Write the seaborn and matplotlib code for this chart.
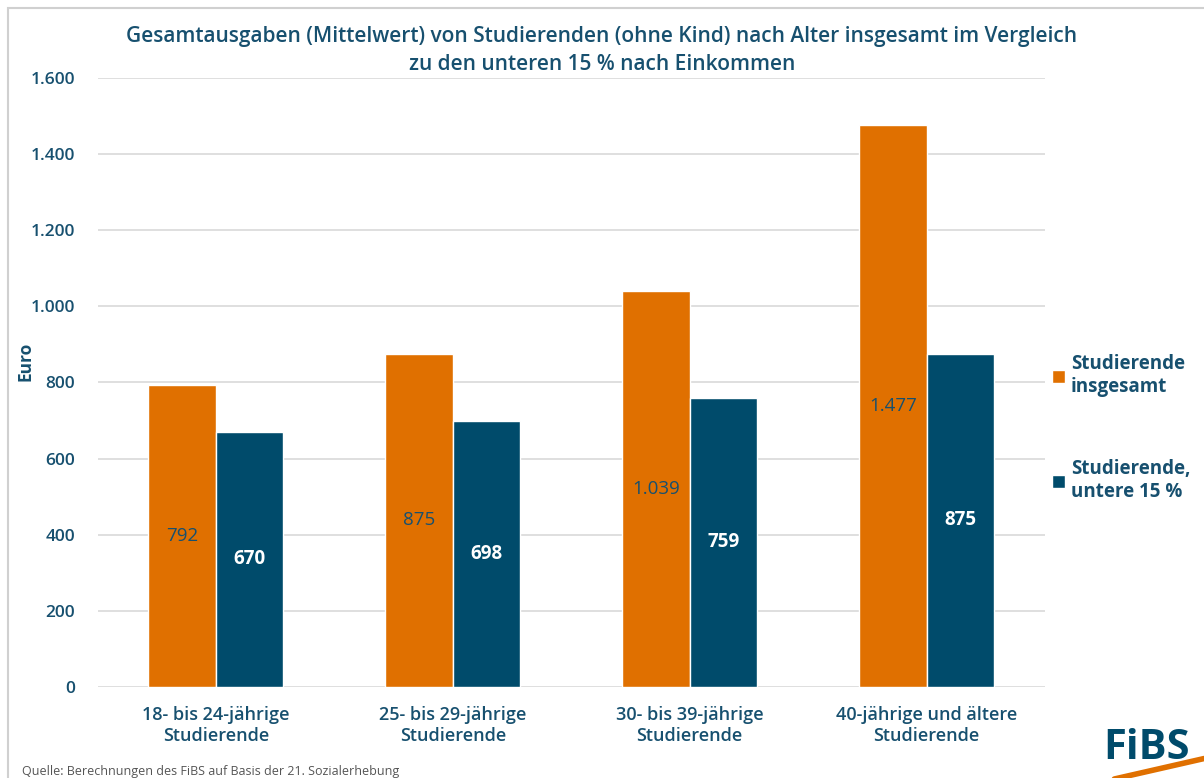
import matplotlib
matplotlib.use("Agg")
import matplotlib.pyplot as plt
import seaborn as sns
import pandas as pd
from matplotlib.ticker import FuncFormatter, MultipleLocator
from matplotlib.patches import Rectangle

categories = ["18- bis 24-jährige\nStudierende", "25- bis 29-jährige\nStudierende",
              "30- bis 39-jährige\nStudierende", "40-jährige und ältere\nStudierende"]
series_names = ["Studierende\ninsgesamt", "Studierende,\nuntere 15 %"]
values_total = [792, 875, 1039, 1477]
values_low = [670, 698, 759, 875]

df = pd.DataFrame({
    "cat": categories * 2,
    "series": [series_names[0]] * 4 + [series_names[1]] * 4,
    "value": values_total + values_low,
})

sns.set_theme(style="white")
plt.rcParams["font.family"] = ["Open Sans", "DejaVu Sans"]

DARK = "#17506F"
ORANGE = "#E07000"
BLUE = "#004B6B"

def de(v, pos=None):
    return f"{int(round(v)):,}".replace(",", ".")

fig = plt.figure(figsize=(12.04, 7.78), dpi=100)
ax = fig.add_axes([0.081, 0.117, 0.787, 0.783])

sns.barplot(data=df, x="cat", y="value", hue="series", palette=[ORANGE, BLUE],
            width=0.57, saturation=1, ax=ax, legend=True)

ax.set_ylim(0, 1600)
ax.yaxis.set_major_locator(MultipleLocator(200))
ax.yaxis.set_major_formatter(FuncFormatter(de))
ax.grid(axis="y", color="#D9D9D9", linewidth=1.2)
ax.set_axisbelow(True)
for s in ax.spines.values():
    s.set_visible(False)
ax.tick_params(axis="both", length=0, colors=DARK)
for t in ax.get_yticklabels():
    t.set_fontsize(12.5)
    t.set_color(DARK)
    t.set_fontweight("semibold")
for t in ax.get_xticklabels():
    t.set_fontsize(13)
    t.set_color(DARK)
    t.set_fontweight("semibold")
ax.tick_params(axis="x", pad=14)
ax.tick_params(axis="y", pad=16)
ax.set_xlabel("")
ax.set_ylabel("Euro", fontsize=12.5, fontweight="bold", color=DARK)
ax.yaxis.set_label_coords(-0.067, 0.535)

conts = ax.containers
ax.bar_label(conts[0], labels=[de(v) for v in values_total], label_type="center",
             color=DARK, fontsize=13.5, fontweight="medium")
ax.bar_label(conts[1], labels=[de(v) for v in values_low], label_type="center",
             color="white", fontsize=13.5, fontweight="bold")

handles, labels = ax.get_legend_handles_labels()
ax.get_legend().remove()
leg = fig.legend(handles, labels, loc="center left", bbox_to_anchor=(0.86, 0.45),
                 frameon=False, fontsize=13.5, labelspacing=3.3, handlelength=0.7,
                 handleheight=0.7, handletextpad=0.3)
for t in leg.get_texts():
    t.set_color(DARK)
    t.set_fontweight("bold")

fig.text(0.5, 0.935, "Gesamtausgaben (Mittelwert) von Studierenden (ohne Kind) nach Alter insgesamt im Vergleich\nzu den unteren 15 % nach Einkommen",
         ha="center", va="center", fontsize=15, color=DARK, fontweight="semibold",
         linespacing=1.45)

fig.text(0.018, 0.0, "Quelle: Berechnungen des FiBS auf Basis der 21. Sozialerhebung",
         ha="left", va="bottom", fontsize=9, color="#555555")

fig.text(0.988, 0.012, "FiBS", ha="right", va="bottom", fontsize=30,
         fontweight="bold", color=BLUE)
fig.add_artist(plt.Line2D([0.915, 1.0], [-0.005, 0.025], color=ORANGE, linewidth=4,
                          transform=fig.transFigure))

fig.add_artist(Rectangle((0.007, -0.1), 1.2, 1.09, transform=fig.transFigure,
                         fill=False, edgecolor="#D0D0D0", linewidth=1.5))

fig.savefig("out.png", dpi=100)
